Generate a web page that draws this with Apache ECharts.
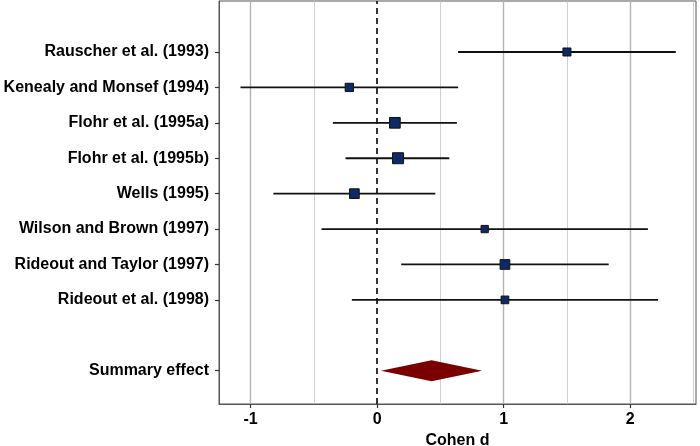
<!DOCTYPE html>
<html>
<head>
<meta charset="utf-8">
<script src="https://cdn.jsdelivr.net/npm/echarts@6/dist/echarts.min.js"></script>
<style>
  html, body { margin: 0; padding: 0; background: #fff; }
  #chart { width: 700px; height: 446px; }
</style>
</head>
<body>
<div id="chart"></div>
<script>
// studies, top to bottom
const studies = [
  "Rauscher et al. (1993)",
  "Kenealy and Monsef (1994)",
  "Flohr et al. (1995a)",
  "Flohr et al. (1995b)",
  "Wells (1995)",
  "Wilson and Brown (1997)",
  "Rideout and Taylor (1997)",
  "Rideout et al. (1998)",
];
const effect = [1.5, -0.22, 0.14, 0.165, -0.18, 0.85, 1.01, 1.01];
const ciLow = [0.64, -1.08, -0.35, -0.25, -0.82, -0.44, 0.19, -0.2];
const ciHigh = [2.36, 0.64, 0.63, 0.57, 0.46, 2.14, 1.83, 2.22];
// relative study weights (drive marker size)
const weights = [0.8, 0.83, 1.07, 1.1, 0.97, 0.73, 0.97, 0.77];

const summaryLabel = "Summary effect";
const summary = { low: 0.03, est: 0.43, high: 0.83 };

const xLabels = [-1, 0, 1, 2];
const xMinor = [-0.5, 0.5, 1.5, 2.5];

// row positions: studies from top, a gap, then the summary row
const rowY = studies.map((s, i) => studies.length + 2 - i);
const summaryY = 1;
const yLabelMap = {};
studies.forEach((s, i) => { yLabelMap[rowY[i]] = s; });
yLabelMap[summaryY] = summaryLabel;
const yTicks = rowY.concat([summaryY]);

const myChart = echarts.init(document.getElementById("chart"));

const labelFont = {
  fontFamily: "Liberation Sans, Arial, sans-serif",
  fontWeight: "bold",
  fontSize: 16,
  color: "#000",
};

const barData = studies.map((s, i) => [ciLow[i], ciHigh[i], rowY[i]]);
const pointData = studies.map((s, i) => ({
  value: [effect[i], rowY[i]],
  symbolSize: 10 * weights[i],
}));

const option = {
  backgroundColor: "#fff",
  animation: false,
  grid: {
    left: 219,
    right: 4,
    top: 1,
    bottom: 42,
    outerBoundsMode: "none",
    containLabel: false,
    show: true,
    borderColor: "#555",
    borderWidth: 1,
    backgroundColor: "#fff",
  },
  xAxis: {
    type: "value",
    min: -1.25,
    max: 2.52,
    name: "Cohen d",
    nameLocation: "middle",
    nameGap: 24,
    nameTextStyle: labelFont,
    axisLine: { show: true, onZero: false, lineStyle: { color: "#555", width: 1 } },
    axisTick: { show: true, customValues: xLabels, length: 4, lineStyle: { color: "#333", width: 1.2 } },
    axisLabel: Object.assign({ customValues: xLabels, margin: 8 }, labelFont),
    splitLine: { show: false },
  },
  yAxis: {
    type: "value",
    min: 0.06,
    max: 11.44,
    axisLine: { show: true, onZero: false, lineStyle: { color: "#555", width: 1 } },
    axisTick: { show: true, customValues: yTicks, length: 4, lineStyle: { color: "#333", width: 1.2 } },
    axisLabel: Object.assign({
      customValues: yTicks,
      margin: 10,
      formatter: (v) => yLabelMap[Math.round(v)] || "",
    }, labelFont),
    splitLine: { show: false },
  },
  series: [
    {
      // grid lines + reference line at 0
      type: "line",
      data: [],
      silent: true,
      z: 1,
      markLine: {
        silent: true,
        z: 1,
        symbol: "none",
        label: { show: false },
        data: xLabels.filter((v) => v !== 0).map((v) => ({
          xAxis: v,
          lineStyle: { color: "#b4b4b4", width: 1.4, type: "solid" },
        })).concat(xMinor.map((v) => ({
          xAxis: v,
          lineStyle: { color: "#c4c4c4", width: 0.8, type: "solid" },
        }))).concat([{
          xAxis: 0,
          lineStyle: { color: "#111", width: 1.7, type: [6, 4] },
        }]),
      },
    },
    {
      // confidence intervals
      type: "custom",
      silent: true,
      renderItem: (params, api) => {
        const a = api.coord([api.value(0), api.value(2)]);
        const b = api.coord([api.value(1), api.value(2)]);
        return {
          type: "line",
          shape: { x1: a[0], y1: a[1], x2: b[0], y2: b[1] },
          style: { stroke: "#111", lineWidth: 1.8 },
        };
      },
      encode: { x: [0, 1], y: 2 },
      data: barData,
      z: 3,
    },
    {
      type: "scatter",
      symbol: "rect",
      itemStyle: { color: "#0d2a66", borderColor: "#111", borderWidth: 1, opacity: 1 },
      data: pointData,
      z: 4,
    },
    {
      // summary diamond
      type: "custom",
      silent: true,
      renderItem: (params, api) => {
        const y = api.value(3);
        const l = api.coord([api.value(0), y]);
        const m = api.coord([api.value(1), y]);
        const r = api.coord([api.value(2), y]);
        const h = 10.5;
        return {
          type: "polygon",
          shape: { points: [[l[0], l[1]], [m[0], m[1] - h], [r[0], r[1]], [m[0], m[1] + h]] },
          style: { fill: "#7a0000" },
        };
      },
      encode: { x: [0, 1, 2], y: 3 },
      data: [[summary.low, summary.est, summary.high, summaryY]],
      z: 4,
    },
  ],
};

myChart.setOption(option);
</script>
</body>
</html>
